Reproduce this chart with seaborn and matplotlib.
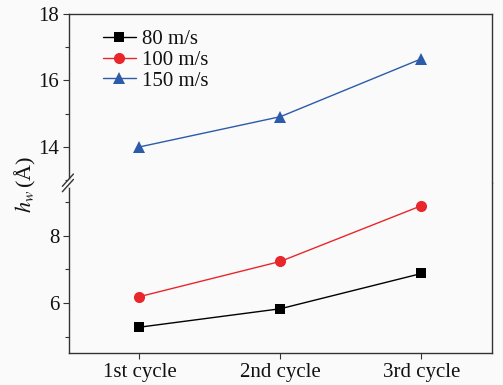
import pandas as pd
import matplotlib.pyplot as plt
import seaborn as sns
from matplotlib.ticker import MultipleLocator

# Data
cycles = ['1st cycle', '2nd cycle', '3rd cycle']
h80 = [5.28, 5.83, 6.88]
h100 = [6.19, 7.24, 8.90]
h150 = [14.00, 14.91, 16.65]
series = ['80 m/s', '100 m/s', '150 m/s']

df = pd.DataFrame({
    'Cycle': cycles * 3,
    'hw': h80 + h100 + h150,
    'Speed': [s for s in series for _ in cycles],
})

sns.set_theme(style="ticks")
plt.rcParams['font.family'] = ['Liberation Serif', 'DejaVu Serif']
plt.rcParams['mathtext.fontset'] = 'stix'

bg = '#fafafa'
colors = {'80 m/s': 'black', '100 m/s': '#e8262b', '150 m/s': '#2b5ba9'}
markers = {'80 m/s': 's', '100 m/s': 'o', '150 m/s': '^'}
msize = {'80 m/s': 7, '100 m/s': 8, '150 m/s': 9}

fig = plt.figure(figsize=(5.03, 3.85), dpi=100, facecolor=bg)
left, right, top, bottom, brk = 0.137, 0.978, 0.964, 0.083, 0.525
ax_top = fig.add_axes([left, brk, right - left, top - brk], facecolor=bg)
ax_bot = fig.add_axes([left, bottom, right - left, brk - bottom], facecolor=bg, sharex=ax_top)

for ax in (ax_top, ax_bot):
    for s in series:
        sub = df[df['Speed'] == s]
        sns.lineplot(data=sub, x='Cycle', y='hw', ax=ax, color=colors[s],
                     marker=markers[s], markersize=msize[s], markeredgewidth=0,
                     linewidth=1.0, label=s, sort=False)
    ax.set_xlim(-0.5, 2.5)
    ax.set_xlabel('')
    ax.set_ylabel('')
    ax.yaxis.set_minor_locator(MultipleLocator(1))
    ax.tick_params(axis='both', which='both', direction='out', labelsize=15,
                   color='#333333', labelcolor='#111111', length=4, width=0.8, pad=3)
    ax.tick_params(axis='y', which='minor', length=3)
    for sp in ax.spines.values():
        sp.set_color('#333333')
        sp.set_linewidth(1.0)

ax_top.set_ylim(12.92, 18)
ax_top.set_yticks([14, 16, 18])
ax_top.spines['bottom'].set_visible(False)
ax_top.tick_params(axis='x', which='both', bottom=False, labelbottom=False)

ax_bot.set_ylim(4.51, 9.58)
ax_bot.set_yticks([6, 8])
ax_bot.spines['top'].set_visible(False)

ax_bot.get_legend().remove()
ax_top.legend(loc='upper left', bbox_to_anchor=(0.06, 0.955), frameon=False,
              fontsize=15, handlelength=1.6, handletextpad=0.3,
              labelspacing=0.05, borderaxespad=0, labelcolor='#111111')

# break marks on the left spine, with a small gap in the spine between them
fig.add_artist(plt.Line2D([left, left], [brk - 0.007, brk + 0.007],
                          color=bg, lw=2.0, transform=fig.transFigure))
for dy in (-0.007, 0.007):
    fig.add_artist(plt.Line2D([left - 0.013, left + 0.009],
                              [brk + dy - 0.016, brk + dy + 0.016],
                              color='#333333', lw=1.0, transform=fig.transFigure))

fig.text(0.05, 0.522, r'$h_w\,$(Å)', rotation=90, ha='center', va='center',
         fontsize=16, color='#111111')

plt.savefig('out.png', dpi=100, facecolor=bg)
